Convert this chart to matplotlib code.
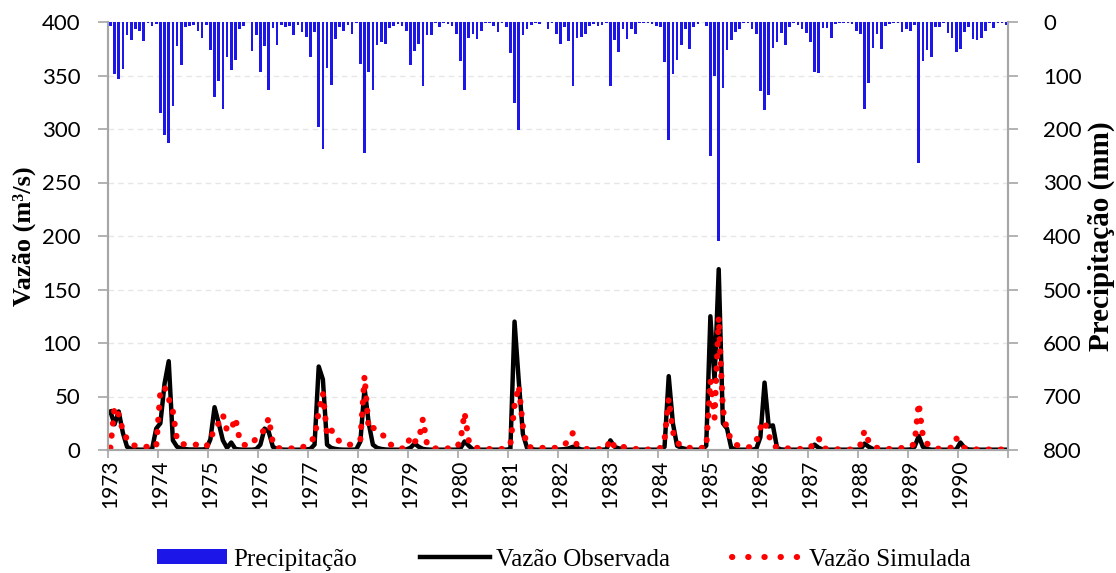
import matplotlib
matplotlib.use('Agg')
import matplotlib.pyplot as plt
from matplotlib.lines import Line2D
from matplotlib.patches import Patch
import numpy as np

# anos da serie (mensal, jan/1973 a dez/1990)
anos = list(range(1973, 1991))

# precipitacao mensal (mm)
precipitacao = [
    8, 97, 107, 88, 24, 34, 13, 17, 35, 2, 7, 4,
    170, 212, 227, 157, 45, 81, 9, 8, 5, 17, 30, 6,
    53, 141, 111, 162, 65, 90, 71, 14, 8, 0, 55, 25,
    94, 45, 127, 12, 43, 5, 9, 8, 25, 5, 19, 28,
    66, 19, 197, 237, 86, 117, 31, 9, 17, 5, 22, 2,
    79, 244, 93, 128, 43, 38, 41, 11, 8, 4, 8, 16,
    81, 54, 41, 120, 24, 24, 2, 9, 2, 4, 7, 22,
    73, 128, 30, 22, 32, 16, 2, 2, 7, 19, 2, 9,
    58, 151, 201, 24, 13, 5, 2, 3, 0, 14, 2, 22,
    42, 10, 36, 119, 30, 28, 22, 7, 3, 7, 5, 2,
    119, 34, 57, 14, 32, 13, 22, 2, 1, 2, 4, 8,
    9, 75, 221, 97, 71, 43, 13, 50, 9, 4, 0, 7,
    250, 101, 410, 123, 53, 33, 19, 14, 2, 2, 14, 22,
    129, 165, 137, 48, 38, 20, 43, 9, 2, 5, 13, 20,
    37, 93, 95, 12, 12, 29, 4, 2, 2, 2, 4, 16,
    22, 163, 114, 48, 22, 50, 8, 4, 2, 2, 19, 14,
    17, 6, 263, 73, 52, 66, 10, 9, 2, 20, 29, 56,
    50, 19, 9, 32, 33, 29, 17, 2, 11, 2, 2, 5,
]

# vazao observada (m3/s)
vazao_obs = [
    36, 24, 36, 16, 3, 0.8, 0.5, 0.3, 0.3, 0.3, 0.8, 20,
    25, 62, 83, 9, 3, 1.5, 0.8, 0.5, 0.5, 0.5, 0.5, 0.8,
    10, 40, 25, 9, 2, 7, 1, 0.5, 0.3, 0.3, 0.3, 0.8,
    5, 20, 17, 3, 1, 0.5, 0.3, 0.3, 0.3, 0.3, 0.3, 0.5,
    1, 5, 78, 66, 5, 2, 1, 0.5, 0.3, 0.3, 0.3, 0.5,
    8, 58, 25, 5, 2, 1, 0.5, 0.3, 0.3, 0.3, 0.3, 0.5,
    2, 6, 3, 1, 0.5, 0.3, 0.3, 0.3, 0.3, 0.3, 0.3, 0.3,
    1.5, 8, 4, 0.5, 0.3, 0.3, 0.3, 0.3, 0.3, 0.3, 0.3, 0.3,
    1, 120, 65, 15, 2, 1, 0.3, 0.3, 0.3, 0.3, 0.3, 0.3,
    0.5, 0.8, 1.5, 3, 2, 0.5, 0.3, 0.3, 0.3, 0.3, 0.3, 0.5,
    9, 3, 1.5, 1, 0.3, 0.3, 0.3, 0.3, 0.3, 0.3, 0.3, 0.3,
    0.5, 3, 69, 25, 4, 2, 1, 0.5, 0.3, 0.3, 0.3, 4,
    125, 65, 169, 25, 20, 2, 0.8, 0.3, 0.3, 0.3, 0.3, 1,
    12, 63, 22, 23, 2, 0.5, 0.3, 0.3, 0.3, 0.3, 0.3, 0.3,
    0.5, 5, 2, 0.5, 0.3, 0.3, 0.3, 0.3, 0.3, 0.3, 0.3, 0.3,
    0.5, 6, 3, 1, 0.3, 0.3, 0.3, 0.3, 0.3, 0.3, 0.3, 0.3,
    0.5, 3, 13, 3, 1, 0.3, 0.3, 0.3, 0.3, 0.3, 0.3, 0.3,
    7, 2, 0.5, 0.3, 0.3, 0.3, 0.3, 0.3, 0.3, 0.3, 0.3, 0.3,
]

# vazao simulada (m3/s)
vazao_sim = [
    2, 40, 33, 18, 10, 5, 4, 3, 3, 3, 3, 3,
    55, 59, 48, 36, 9, 6, 5, 5, 5, 5, 4, 3,
    10, 20, 25, 33, 18, 19, 30, 10, 5, 4, 6, 11,
    15, 19, 30, 6, 2, 1.5, 1.5, 1.5, 1.5, 1.5, 2, 5,
    9, 11, 36, 53, 14, 19, 12, 8, 6, 5, 5, 7,
    10, 69, 19, 21, 18, 15, 12, 6, 3, 3, 1.5, 1.5,
    13, 8, 9, 29, 5, 2, 1.5, 1.5, 1.5, 1.5, 1.5, 2,
    8, 35, 9, 3, 2, 1.5, 1, 1, 1, 1, 1, 2,
    5, 42, 60, 22, 3, 2.5, 2, 2, 2, 2, 2, 2,
    3, 5, 9, 16, 4, 2, 1, 1, 1, 1, 0.5, 1,
    10, 3, 5, 3, 2, 1.5, 1, 1, 0.5, 0.5, 0.5, 0.5,
    2, 10, 48, 17, 7, 4, 2, 2, 2.5, 2, 2, 2,
    65, 30, 124, 38, 18, 10, 5, 4, 3, 2.5, 3, 8,
    21, 27, 14, 4, 2.5, 2, 1.5, 1.5, 1, 1, 1, 1,
    2, 8, 11, 2, 1, 1, 1, 0.5, 0.5, 0.5, 0.5, 1,
    5, 18, 8, 4, 2, 2, 1.5, 1, 1, 1, 2, 2.5,
    3, 6, 44, 13, 6, 3, 2, 1, 1, 1.5, 2.5, 11,
    5, 2, 1, 1, 0.5, 0.5, 0.5, 0.5, 0.5, 0.5, 0.5, 0.3,
]

meses = np.arange(len(precipitacao))
cinza = '#a6a6a6'
azul = '#1c17e8'

fig = plt.figure(figsize=(11.16, 5.73), dpi=100)
ax = fig.add_axes([108.3 / 1116, 1 - 450 / 573, 900 / 1116, 428 / 573])
ax2 = ax.twinx()

# precipitacao no eixo secundario (invertido)
ax2.bar(meses, precipitacao, width=0.62, color=azul, zorder=2)
ax2.set_ylim(800, 0)
ax2.set_yticks(range(0, 801, 100))

# vazoes
ax.plot(meses, vazao_obs, color='black', lw=3.2, solid_joinstyle='round', zorder=3)
ax.plot(meses, vazao_sim, color='red', lw=4.4, dashes=(0.05, 1.95),
        dash_capstyle='round', zorder=4)
ax.set_ylim(0, 400)
ax.set_yticks(range(0, 401, 50))
ax.set_xlim(-0.5, 215.5)
ax.yaxis.grid(True, color='#e6e6e6', ls=(0, (4, 3)), lw=1)
ax.set_axisbelow(True)

# eixo x: marcas entre anos, rotulos no inicio de cada ano
ax.set_xticks(np.arange(0, 217, 12) - 0.5)
ax.set_xticklabels([])
ax.set_xticks(np.arange(0, 216, 12), minor=True)
ax.set_xticklabels([str(a) for a in anos], minor=True, rotation=90,
                   fontfamily='Lato', fontsize=15)
ax.tick_params(axis='x', which='minor', length=0, pad=7)
ax.tick_params(axis='x', which='major', length=6, color=cinza, width=1.2)

for a in (ax, ax2):
    a.tick_params(axis='y', length=7, color=cinza, width=1.2, labelsize=16)
    for s in a.spines.values():
        s.set_color(cinza)
        s.set_linewidth(1.5)
    a.spines['top'].set_visible(False)
for lab in ax.get_yticklabels() + ax2.get_yticklabels():
    lab.set_fontfamily('Lato')
ax.tick_params(axis='y', pad=13)
ax2.tick_params(axis='y', pad=18)

ax.set_ylabel('Vazão (m³/s)', fontfamily='Liberation Serif', fontweight='bold',
              fontsize=19, labelpad=4)
ax2.set_ylabel('Precipitação (mm)', fontfamily='Liberation Serif', fontweight='bold',
               fontsize=21, labelpad=4)

handles = [
    Patch(facecolor=azul, edgecolor='none'),
    Line2D([0], [0], color='black', lw=3.2),
    Line2D([0], [0], color='red', lw=4.4, dashes=(0.05, 2.6), dash_capstyle='round'),
]
fig.legend(handles, ['Precipitação', 'Vazão Observada', 'Vazão Simulada'],
           loc='lower center', bbox_to_anchor=(0.505, -0.035), ncol=3, frameon=False,
           prop={'family': 'Liberation Serif', 'size': 18},
           handlelength=2.8, handleheight=0.55, handletextpad=0.25, columnspacing=2.5)

fig.savefig('out.png', dpi=100)
